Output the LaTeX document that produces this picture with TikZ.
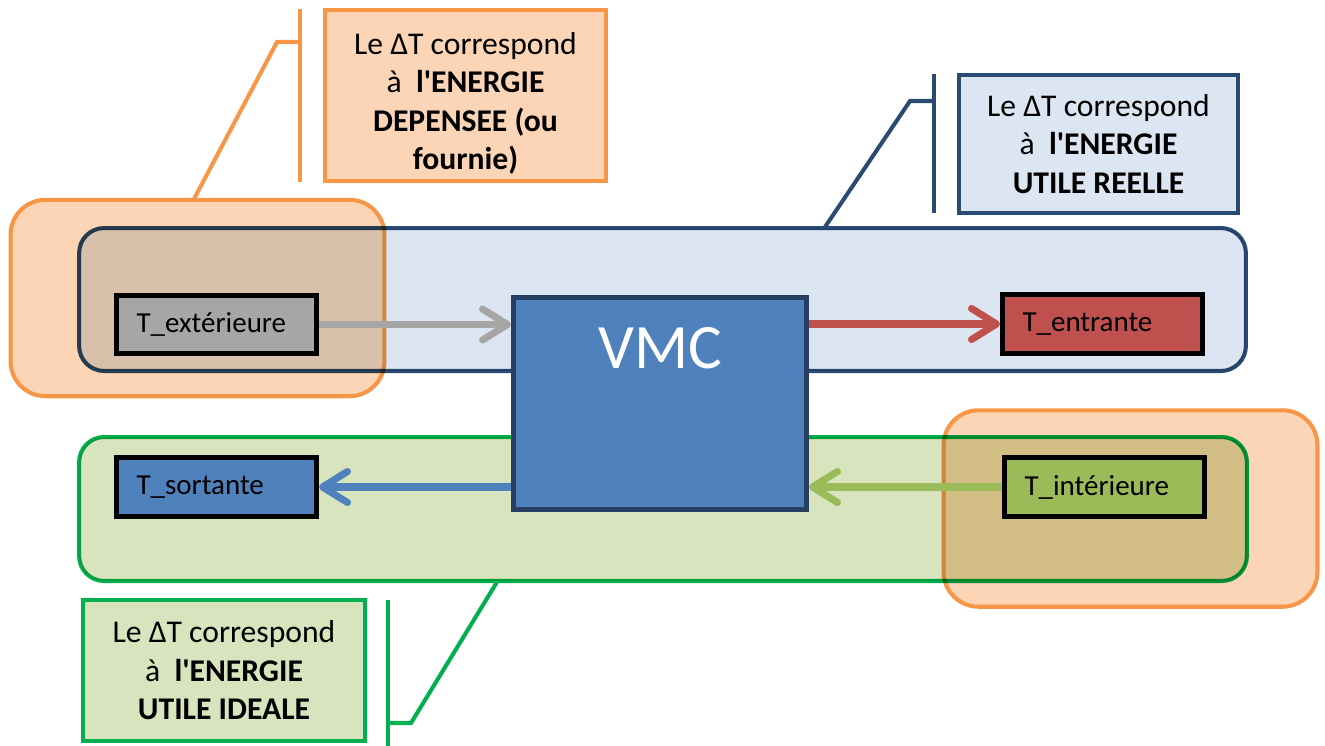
\documentclass[tikz,border=0pt]{standalone}
\usepackage{fontspec}
\setmainfont{Carlito}[Ligatures=TeXOff]
\usetikzlibrary{calc,positioning,arrows.meta}
\definecolor{vmcblue}{HTML}{4F81BD}
\definecolor{vmcdark}{HTML}{263F63}
\definecolor{zoneblue}{HTML}{DCE6F2}
\definecolor{zonebluedraw}{HTML}{2A4A72}
\definecolor{zonegreen}{HTML}{D7E4BD}
\definecolor{zonegreendraw}{HTML}{00B050}
\definecolor{zoneorange}{HTML}{FBD5B5}
\definecolor{zoneorangedraw}{HTML}{F79646}
\definecolor{tgray}{HTML}{A6A6A6}
\definecolor{tred}{HTML}{C0504D}
\definecolor{tgreen}{HTML}{9BBB59}

\begin{document}
\begin{tikzpicture}[x=0.02cm,y=-0.02cm,
zone/.style={draw,line width=2.3pt,rounded corners=0.5cm},
orangezone/.style={draw=zoneorangedraw,fill=zoneorange,line width=2.3pt,rounded corners=0.7cm,minimum width=7.48cm,minimum height=3.93cm},
callout/.style={draw,line width=2.3pt,align=center,inner sep=0pt,font=\fontsize{18}{21.9}\selectfont},
leader/.style={line width=2.3pt},
tbox/.style={draw=black,line width=2.85pt,text width=3.2cm,inner xsep=0.4cm,inner ysep=0pt,minimum height=1.17cm,align=left,font=\fontsize{16.5}{20}\selectfont},
flow/.style={line width=4pt,-{Straight Barb[length=0.5cm,width=0.62cm,round]}}]
\useasboundingbox (0,0) rectangle (1325,745);
\node[orangezone] (zoneExt) at (197.5,298) {};
\node[orangezone] (zoneInt) at (1130.5,508.5) {};
\begin{scope}[blend mode=multiply]
\node[zone,draw=zonebluedraw,fill=zoneblue,minimum width=23.34cm,minimum height=2.86cm] (zoneReel) at (662.5,299.5) {};
\node[zone,draw=zonegreendraw,fill=zonegreen,minimum width=23.36cm,minimum height=2.88cm] (zoneIdeal) at (663,509) {};
\end{scope}
\node[callout,draw=zoneorangedraw,fill=zoneorange,minimum width=5.62cm,minimum height=3.42cm] (noteDepense) at (465.5,95.5)
{\rule{0pt}{21.5pt}Le ΔT correspond\\à~ \textbf{l'ENERGIE}\\\textbf{DEPENSEE (ou}\\\textbf{fournie)}};
\node[callout,draw=zonebluedraw,fill=zoneblue,minimum width=5.58cm,minimum height=2.76cm] (noteReel) at (1098.5,144)
{Le ΔT correspond\\à~ \textbf{l'ENERGIE}\\\textbf{UTILE REELLE}};
\node[callout,draw=zonegreendraw,fill=zonegreen,minimum width=5.64cm,minimum height=2.82cm] (noteIdeal) at (224,670.5)
{Le ΔT correspond\\à~ \textbf{l'ENERGIE}\\\textbf{UTILE IDEALE}};
\coordinate (barDepA) at (300,9);
\coordinate (barDepB) at (300,182);
\coordinate (kneeDep) at (277,42);
\coordinate (tipDep) at (194,199);
\draw[leader,zoneorangedraw] (barDepA) -- (barDepB);
\draw[leader,zoneorangedraw] (barDepA |- kneeDep) -- (kneeDep) -- (tipDep);
\coordinate (barReelA) at (934,74);
\coordinate (barReelB) at (934,213);
\coordinate (kneeReel) at (910,101);
\coordinate (tipReel) at (825,227);
\draw[leader,zonebluedraw] (barReelA) -- (barReelB);
\draw[leader,zonebluedraw] (barReelA |- kneeReel) -- (kneeReel) -- (tipReel);
\coordinate (barIdealA) at (388,600);
\coordinate (barIdealB) at (388,748);
\coordinate (kneeIdeal) at (411,723);
\coordinate (tipIdeal) at (497,582);
\draw[leader,zonegreendraw] (barIdealA) -- (barIdealB);
\draw[leader,zonegreendraw] (barIdealA |- kneeIdeal) -- (kneeIdeal) -- (tipIdeal);
\node[draw=vmcdark,fill=vmcblue,line width=2.85pt,minimum width=5.86cm,minimum height=4.24cm,text=white,font=\fontsize{36}{43}\selectfont,text height=0.82cm,text depth=2.24cm,inner sep=0pt] (vmc) at (660,403.5) {VMC};
\node[tbox,fill=tgray] (tExt) at (216.5,324.5) {T\_extérieure};
\node[tbox,fill=tred] (tEnt) at (1102.5,324) {T\_entrante};
\node[tbox,fill=vmcblue] (tSort) at (216.5,487) {T\_sortante};
\node[tbox,fill=tgreen] (tInt) at (1104.5,487) {T\_intérieure};
\draw[flow,tgray] (tExt.east) -- (tExt.east -| vmc.west);
\draw[flow,tred] (tEnt.west -| vmc.east) -- (tEnt.west);
\draw[flow,vmcblue] (tSort.east -| vmc.west) -- (tSort.east);
\draw[flow,tgreen] (tInt.west) -- (tInt.west -| vmc.east);
\end{tikzpicture}
\end{document}
